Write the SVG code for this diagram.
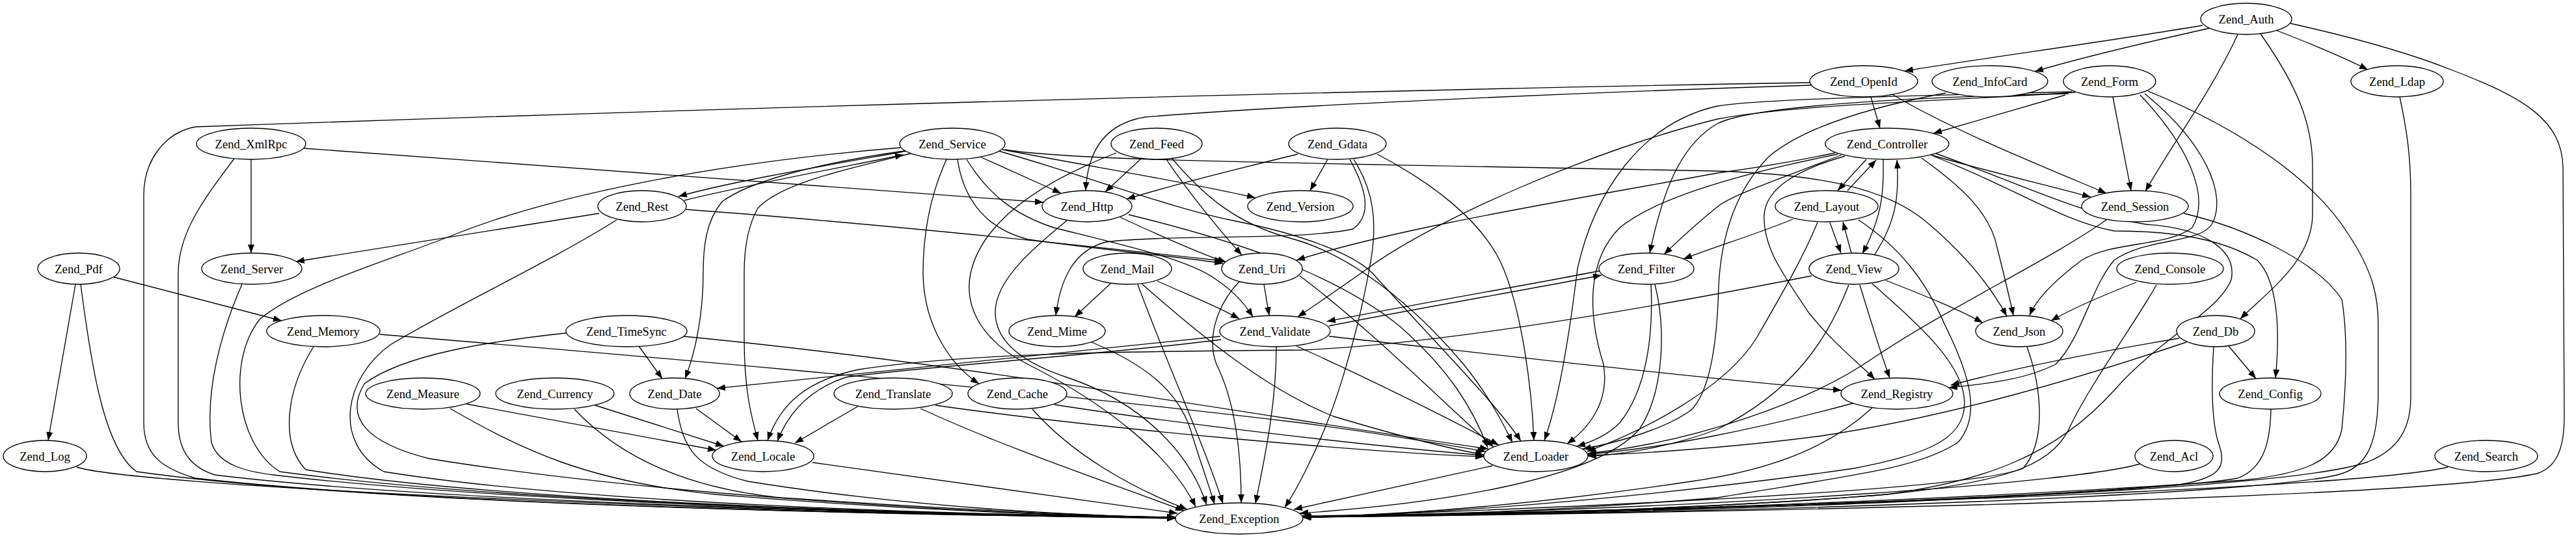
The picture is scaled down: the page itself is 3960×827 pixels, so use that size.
<svg xmlns="http://www.w3.org/2000/svg" width="3960" height="827" viewBox="0 0 3960 827">
<style>
.node ellipse{fill:#fff;stroke:#000;stroke-width:1.33}
.node text{font-family:"Liberation Serif","Times New Roman",serif;font-size:18.67px;text-anchor:middle;fill:#000}
#edges path{fill:none;stroke:#000;stroke-width:1.33;marker-end:url(#arr)}
</style>
<defs>
<marker id="arr" markerUnits="userSpaceOnUse" markerWidth="14" markerHeight="10" refX="13" refY="5" orient="auto"><path d="M0,0 L13,5 L0,10 z" fill="#000"/></marker>
</defs>
<rect width="3960" height="827" fill="#fff"/>
<g id="edges">
<path d="M3386,39 C3250,62 3060,88 2928,109"/>
<path d="M3398,43 C3300,65 3200,88 3128,110"/>
<path d="M3440,53 C3400,140 3340,220 3298,294"/>
<path d="M3500,47 C3560,70 3610,92 3640,107"/>
<path d="M3475,52 C3530,130 3556,190 3555,260 L3555,330 C3554,400 3490,445 3444,490"/>
<path d="M3521,36 C3620,58 3700,80 3770,108 C3880,150 3940,185 3940,260 L3942,640 C3942,690 3930,718 3900,728 C3700,770 2500,790 2003,795"/>
<path d="M3689,149 C3700,200 3706,240 3706,300 L3706,610 C3706,655 3690,690 3640,710 C3500,760 2600,785 2002,793"/>
<path d="M2876,149 L2890,197"/>
<path d="M2909,145 C3000,200 3150,260 3238,297"/>
<path d="M2784,131 C2500,140 2000,160 1760,180 C1700,190 1672,230 1669,293"/>
<path d="M2783,127 C2000,140 1000,170 300,195 C250,205 221,250 221,300 L221,650 C221,700 250,720 300,735 C700,780 1500,793 1807,796"/>
<path d="M2991,143 C2900,160 2780,190 2720,240 C2660,300 2645,380 2642,440 C2640,520 2630,600 2600,630 C2560,660 2480,682 2433,690"/>
<path d="M3175,146 L2972,205"/>
<path d="M3248,149 L3276,293"/>
<path d="M3190,142 C3000,155 2760,160 2640,183 C2450,230 2200,340 2102,413 C2050,450 2020,470 1995,487"/>
<path d="M3180,144 C2900,150 2690,165 2640,190 C2580,225 2555,300 2536,389"/>
<path d="M3185,141 C2900,148 2700,153 2640,163 C2520,190 2450,300 2425,413 C2412,520 2395,620 2374,677"/>
<path d="M3290,146 C3360,220 3400,300 3370,350 C3330,380 3250,370 3200,400 C3160,430 3130,460 3120,485"/>
<path d="M3297,144 C3390,220 3425,300 3400,345 C3380,375 3300,365 3250,400 C3215,440 3200,520 3160,560 C3110,585 3050,590 2996,596"/>
<path d="M3302,140 C3450,200 3560,280 3610,360 C3650,420 3656,460 3656,500 L3656,600 C3656,680 3640,715 3600,728 C3500,760 2700,790 2002,794"/>
<path d="M386,245 L386,389"/>
<path d="M467,228 C900,260 1300,290 1604,311"/>
<path d="M360,244 C310,310 274,360 274,420 L274,650 C274,700 300,720 330,730 C700,775 1500,792 1807,795"/>
<path d="M1395,232 C1250,258 1120,280 1043,302"/>
<path d="M1052,308 C1150,284 1290,258 1389,238"/>
<path d="M1509,242 L1631,297"/>
<path d="M1541,230 C1700,260 1850,285 1930,304"/>
<path d="M1472,245 C1480,300 1510,350 1580,368 C1700,385 1820,395 1880,405"/>
<path d="M1486,245 C1520,300 1560,330 1620,350 C1740,380 1830,400 1870,430 C1900,450 1915,470 1926,487"/>
<path d="M1535,232 C1700,280 1800,320 1900,340 C2000,360 2080,390 2110,420 C2200,520 2300,620 2338,678"/>
<path d="M1545,230 C1650,248 2000,250 2640,263 C2800,268 2900,290 2960,340 C3020,390 3060,440 3085,486"/>
<path d="M1390,232 C1250,252 1150,280 1110,310 C1085,340 1081,380 1081,420 C1081,480 1070,540 1053,582"/>
<path d="M1400,236 C1300,260 1200,282 1165,320 C1148,350 1144,390 1144,420 L1144,520 C1144,600 1155,640 1165,677"/>
<path d="M1455,245 C1430,300 1419,360 1419,420 C1420,500 1460,560 1505,590"/>
<path d="M1384,227 C1100,250 850,300 700,360 C600,400 460,440 400,490 C350,550 360,680 430,725 C800,775 1500,792 1807,795"/>
<path d="M921,328 L455,402"/>
<path d="M1055,322 C1300,340 1600,370 1880,401"/>
<path d="M948,338 C850,400 700,470 600,530 C530,580 510,680 590,725 C900,775 1500,792 1807,795"/>
<path d="M1753,245 L1699,295"/>
<path d="M1793,245 C1830,300 1880,360 1909,392"/>
<path d="M1802,244 C1850,300 1900,345 1990,368 C2100,400 2200,500 2250,560 C2290,610 2310,650 2325,680"/>
<path d="M1716,235 C1600,280 1510,340 1492,420 C1480,480 1520,530 1580,560 C1700,620 1800,700 1838,779"/>
<path d="M1995,237 C1900,260 1800,285 1732,306"/>
<path d="M2041,245 L2014,293"/>
<path d="M2075,245 C2100,290 2110,330 2080,352 C2000,370 1800,360 1700,372 C1650,385 1630,430 1623,485"/>
<path d="M2117,237 C2200,280 2280,340 2310,410 C2340,480 2355,600 2358,677"/>
<path d="M2081,245 C2110,290 2120,340 2105,413 C2090,500 2060,600 2040,650 C2020,700 1995,750 1975,780"/>
<path d="M2869,245 L2825,293"/>
<path d="M2840,293 L2884,246"/>
<path d="M2895,245 C2896,290 2895,330 2863,390"/>
<path d="M2882,391 C2915,340 2920,300 2916,246"/>
<path d="M2813,342 L2830,389"/>
<path d="M2846,389 L2833,341"/>
<path d="M2968,238 C3060,265 3150,285 3214,303"/>
<path d="M2831,238 C2750,270 2660,300 2640,318 C2600,350 2580,370 2558,391"/>
<path d="M2821,235 C2750,250 2700,258 2640,266 C2400,310 2150,350 1993,400"/>
<path d="M2825,237 C2700,262 2550,300 2490,350 C2440,400 2440,480 2465,560 C2475,620 2440,660 2409,682"/>
<path d="M2954,243 C3020,290 3060,330 3070,380 C3080,420 3090,460 3095,485"/>
<path d="M2836,240 C2760,262 2715,290 2712,330 C2710,380 2740,420 2780,480 C2820,530 2860,560 2882,583"/>
<path d="M2972,240 C3100,290 3170,340 3250,355 C3350,355 3420,370 3470,400 C3500,430 3506,500 3498,581"/>
<path d="M2976,236 C3100,280 3200,330 3300,345 C3380,350 3440,380 3430,430 C3410,480 3320,520 3250,600 C3160,700 3050,740 2900,760 C2600,785 2200,793 2002,795"/>
<path d="M2756,337 C2700,360 2640,378 2588,398"/>
<path d="M2794,342 C2770,400 2740,450 2700,520 C2650,600 2520,665 2440,694"/>
<path d="M2857,338 C2920,380 2960,430 2990,500 C3030,580 3045,640 3010,680 C2950,720 2850,730 2640,765 C2400,785 2200,792 2002,795"/>
<path d="M2899,431 C2960,455 3010,475 3048,496"/>
<path d="M2859,438 C2875,490 2890,540 2905,581"/>
<path d="M2842,438 C2810,520 2760,600 2640,660 C2560,690 2480,700 2441,701"/>
<path d="M2878,436 C2950,500 3020,560 3020,620 C3020,680 2950,700 2850,720 C2500,770 2200,790 2002,795"/>
<path d="M2785,424 C2500,480 2200,530 2000,538 C1800,540 1500,540 1320,568 C1240,585 1200,620 1180,677"/>
<path d="M1876,517 C1700,535 1400,565 1102,597"/>
<path d="M1877,522 C1700,545 1400,565 1300,580 C1240,600 1210,640 1195,678"/>
<path d="M2043,501 C2200,470 2350,445 2462,423"/>
<path d="M2461,416 C2350,438 2200,463 2040,494"/>
<path d="M2043,517 C2300,545 2600,580 2831,600"/>
<path d="M1993,532 C2100,580 2220,640 2304,684"/>
<path d="M1962,533 C1962,620 1945,700 1930,774"/>
<path d="M1943,437 L1951,485"/>
<path d="M1998,424 C2100,500 2220,620 2296,687"/>
<path d="M1905,433 C1870,470 1855,520 1870,560 C1900,620 1908,700 1908,773"/>
<path d="M1707,436 L1652,487"/>
<path d="M1779,432 C1830,455 1870,470 1905,490"/>
<path d="M1755,436 C1850,520 1950,600 2050,640 C2150,670 2230,690 2281,699"/>
<path d="M1749,437 C1790,550 1850,680 1880,774"/>
<path d="M1678,526 C1760,560 1810,600 1830,660 C1845,710 1860,750 1867,775"/>
<path d="M1722,334 C1800,370 1850,392 1885,403"/>
<path d="M1735,330 C1900,370 2050,420 2150,500 C2230,570 2265,630 2287,688"/>
<path d="M1640,339 C1590,380 1530,430 1530,480 C1530,530 1580,560 1640,580 C1760,620 1830,700 1855,776"/>
<path d="M3238,338 C3150,400 3000,470 2880,550 C2780,620 2600,680 2441,697"/>
<path d="M3357,328 C3450,350 3560,400 3600,460 C3610,520 3606,600 3600,660 C3590,710 3540,728 3450,738 C3000,770 2400,790 2002,795"/>
<path d="M3284,434 C3230,455 3190,472 3153,493"/>
<path d="M3315,438 C3280,500 3220,580 3185,650 C3160,710 3100,740 2900,760 C2600,785 2200,793 2002,795"/>
<path d="M3350,520 C3200,545 3080,570 2999,592"/>
<path d="M3426,532 L3468,582"/>
<path d="M3361,526 C3200,580 3000,640 2800,670 C2650,690 2500,698 2441,700"/>
<path d="M3403,533 C3400,580 3398,640 3410,680 C3425,720 3410,735 3350,745 C3000,775 2400,792 2002,795"/>
<path d="M3491,629 C3490,680 3480,720 3440,735 C3300,760 2500,790 2002,795"/>
<path d="M2848,620 C2700,660 2550,690 2441,698"/>
<path d="M2878,627 C2820,680 2740,720 2600,740 C2400,770 2200,790 2002,795"/>
<path d="M3116,533 C3140,600 3145,680 3110,720 C3050,745 2700,770 2002,795"/>
<path d="M3290,713 C3200,740 2700,780 2002,795"/>
<path d="M3763,718 C3650,745 3000,775 2002,795"/>
<path d="M2538,437 C2542,520 2530,600 2490,650 C2470,670 2445,680 2424,686"/>
<path d="M2544,437 C2560,500 2560,600 2520,660 C2450,740 2200,775 1998,789"/>
<path d="M2294,716 L1989,783"/>
<path d="M1621,622 C1800,650 2100,685 2281,700"/>
<path d="M1587,629 C1650,700 1740,750 1825,783"/>
<path d="M1320,624 L1222,681"/>
<path d="M1438,623 C1700,660 2100,695 2281,702"/>
<path d="M1415,628 C1550,690 1700,740 1820,785"/>
<path d="M1070,628 L1140,679"/>
<path d="M1041,629 C1050,690 1070,720 1150,740 C1400,780 1650,792 1807,796"/>
<path d="M915,623 L1113,686"/>
<path d="M883,629 C950,700 1050,750 1200,765 C1500,785 1700,793 1807,796"/>
<path d="M717,621 L1101,692"/>
<path d="M692,628 C800,690 900,740 1100,760 C1400,785 1650,793 1807,796"/>
<path d="M1249,711 L1810,789"/>
<path d="M982,532 L1018,582"/>
<path d="M1050,517 C1500,560 2000,650 2288,690"/>
<path d="M870,512 C750,525 620,545 560,590 C530,640 560,680 660,705 C1000,760 1500,790 1807,796"/>
<path d="M584,514 C900,540 1500,590 2000,650 C2150,670 2230,685 2284,694"/>
<path d="M482,533 C440,600 430,680 470,722 C800,775 1500,792 1807,796"/>
<path d="M175,426 L433,493"/>
<path d="M116,437 L74,677"/>
<path d="M124,437 C140,560 160,690 210,725 C600,780 1500,793 1807,796"/>
<path d="M118,718 C200,745 1000,785 1807,797"/>
<path d="M372,437 C340,510 315,600 325,680 C335,715 380,725 420,730 C800,775 1500,792 1807,796"/>
</g>
<g id="n_auth" class="node"><ellipse cx="3453" cy="29" rx="70" ry="24"/><text x="3453" y="35.5">Zend_Auth</text></g>
<g id="n_openid" class="node"><ellipse cx="2865" cy="125" rx="83" ry="24"/><text x="2865" y="131.5">Zend_OpenId</text></g>
<g id="n_infocard" class="node"><ellipse cx="3059" cy="125" rx="89" ry="24"/><text x="3059" y="131.5">Zend_InfoCard</text></g>
<g id="n_form" class="node"><ellipse cx="3243" cy="125" rx="71" ry="24"/><text x="3243" y="131.5">Zend_Form</text></g>
<g id="n_ldap" class="node"><ellipse cx="3685" cy="125" rx="71" ry="24"/><text x="3685" y="131.5">Zend_Ldap</text></g>
<g id="n_xmlrpc" class="node"><ellipse cx="386" cy="221" rx="84" ry="24"/><text x="386" y="227.5">Zend_XmlRpc</text></g>
<g id="n_service" class="node"><ellipse cx="1464" cy="221" rx="81" ry="24"/><text x="1464" y="227.5">Zend_Service</text></g>
<g id="n_feed" class="node"><ellipse cx="1778" cy="221" rx="70" ry="24"/><text x="1778" y="227.5">Zend_Feed</text></g>
<g id="n_gdata" class="node"><ellipse cx="2056" cy="221" rx="75" ry="24"/><text x="2056" y="227.5">Zend_Gdata</text></g>
<g id="n_controller" class="node"><ellipse cx="2901" cy="221" rx="95" ry="24"/><text x="2901" y="227.5">Zend_Controller</text></g>
<g id="n_rest" class="node"><ellipse cx="987" cy="317" rx="68" ry="24"/><text x="987" y="323.5">Zend_Rest</text></g>
<g id="n_http" class="node"><ellipse cx="1671" cy="317" rx="69" ry="24"/><text x="1671" y="323.5">Zend_Http</text></g>
<g id="n_version" class="node"><ellipse cx="1999" cy="317" rx="81" ry="24"/><text x="1999" y="323.5">Zend_Version</text></g>
<g id="n_layout" class="node"><ellipse cx="2808" cy="317" rx="79" ry="24"/><text x="2808" y="323.5">Zend_Layout</text></g>
<g id="n_session" class="node"><ellipse cx="3282" cy="317" rx="82" ry="24"/><text x="3282" y="323.5">Zend_Session</text></g>
<g id="n_pdf" class="node"><ellipse cx="121" cy="413" rx="63" ry="24"/><text x="121" y="419.5">Zend_Pdf</text></g>
<g id="n_server" class="node"><ellipse cx="387" cy="413" rx="77" ry="24"/><text x="387" y="419.5">Zend_Server</text></g>
<g id="n_mail" class="node"><ellipse cx="1733" cy="413" rx="68" ry="24"/><text x="1733" y="419.5">Zend_Mail</text></g>
<g id="n_uri" class="node"><ellipse cx="1940" cy="413" rx="62" ry="24"/><text x="1940" y="419.5">Zend_Uri</text></g>
<g id="n_filter" class="node"><ellipse cx="2531" cy="413" rx="73" ry="24"/><text x="2531" y="419.5">Zend_Filter</text></g>
<g id="n_view" class="node"><ellipse cx="2850" cy="413" rx="69" ry="24"/><text x="2850" y="419.5">Zend_View</text></g>
<g id="n_console" class="node"><ellipse cx="3336" cy="413" rx="82" ry="24"/><text x="3336" y="419.5">Zend_Console</text></g>
<g id="n_memory" class="node"><ellipse cx="497" cy="509" rx="87" ry="24"/><text x="497" y="515.5">Zend_Memory</text></g>
<g id="n_timesync" class="node"><ellipse cx="963" cy="509" rx="93" ry="24"/><text x="963" y="515.5">Zend_TimeSync</text></g>
<g id="n_mime" class="node"><ellipse cx="1625" cy="509" rx="74" ry="24"/><text x="1625" y="515.5">Zend_Mime</text></g>
<g id="n_validate" class="node"><ellipse cx="1960" cy="509" rx="85" ry="24"/><text x="1960" y="515.5">Zend_Validate</text></g>
<g id="n_json" class="node"><ellipse cx="3104" cy="509" rx="67" ry="24"/><text x="3104" y="515.5">Zend_Json</text></g>
<g id="n_db" class="node"><ellipse cx="3406" cy="509" rx="60" ry="24"/><text x="3406" y="515.5">Zend_Db</text></g>
<g id="n_measure" class="node"><ellipse cx="650" cy="605" rx="88" ry="24"/><text x="650" y="611.5">Zend_Measure</text></g>
<g id="n_currency" class="node"><ellipse cx="853" cy="605" rx="91" ry="24"/><text x="853" y="611.5">Zend_Currency</text></g>
<g id="n_date" class="node"><ellipse cx="1037" cy="605" rx="69" ry="24"/><text x="1037" y="611.5">Zend_Date</text></g>
<g id="n_translate" class="node"><ellipse cx="1373" cy="605" rx="91" ry="24"/><text x="1373" y="611.5">Zend_Translate</text></g>
<g id="n_cache" class="node"><ellipse cx="1564" cy="605" rx="76" ry="24"/><text x="1564" y="611.5">Zend_Cache</text></g>
<g id="n_registry" class="node"><ellipse cx="2916" cy="605" rx="86" ry="24"/><text x="2916" y="611.5">Zend_Registry</text></g>
<g id="n_config" class="node"><ellipse cx="3490" cy="605" rx="78" ry="24"/><text x="3490" y="611.5">Zend_Config</text></g>
<g id="n_log" class="node"><ellipse cx="69" cy="701" rx="64" ry="24"/><text x="69" y="707.5">Zend_Log</text></g>
<g id="n_locale" class="node"><ellipse cx="1173" cy="701" rx="78" ry="24"/><text x="1173" y="707.5">Zend_Locale</text></g>
<g id="n_loader" class="node"><ellipse cx="2361" cy="701" rx="80" ry="24"/><text x="2361" y="707.5">Zend_Loader</text></g>
<g id="n_acl" class="node"><ellipse cx="3342" cy="701" rx="60" ry="24"/><text x="3342" y="707.5">Zend_Acl</text></g>
<g id="n_search" class="node"><ellipse cx="3822" cy="701" rx="79" ry="24"/><text x="3822" y="707.5">Zend_Search</text></g>
<g id="n_exception" class="node"><ellipse cx="1905" cy="797" rx="98" ry="24"/><text x="1905" y="803.5">Zend_Exception</text></g>
</svg>
